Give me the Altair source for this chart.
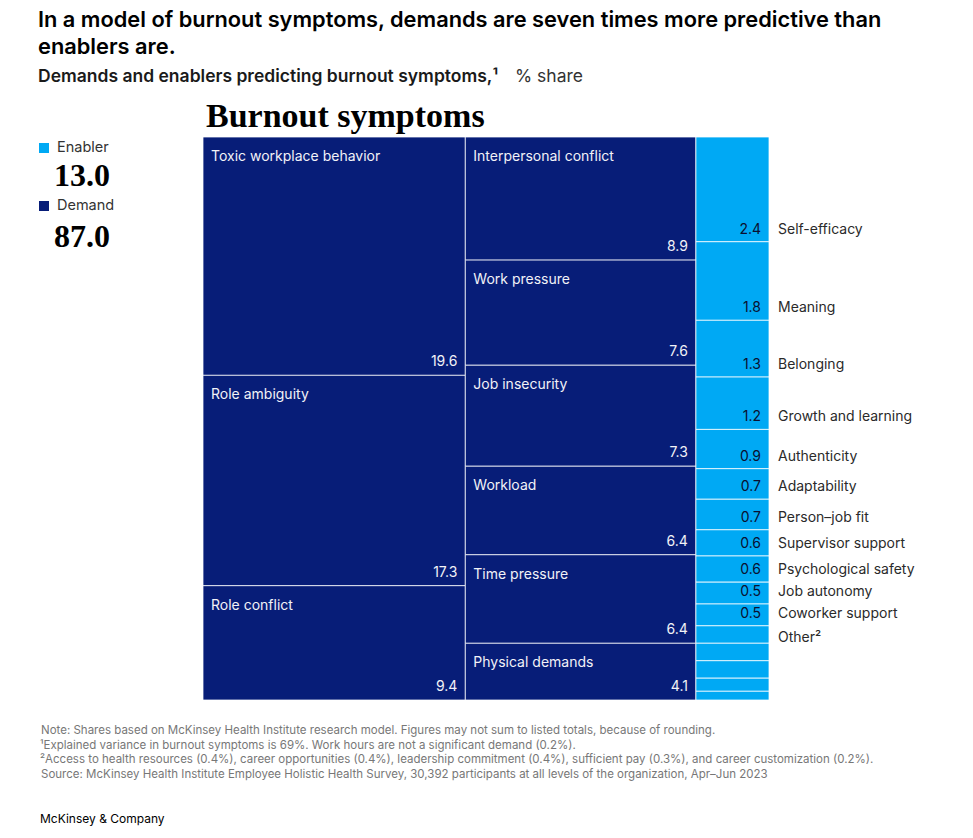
import altair as alt
import pandas as pd

# ---------------- data ----------------
demand_col1_names = ["Toxic workplace behavior", "Role ambiguity", "Role conflict"]
demand_col1_values = [19.6, 17.3, 9.4]
demand_col2_names = ["Interpersonal conflict", "Work pressure", "Job insecurity",
                     "Workload", "Time pressure", "Physical demands"]
demand_col2_values = [8.9, 7.6, 7.3, 6.4, 6.4, 4.1]
enabler_names = ["Self-efficacy", "Meaning", "Belonging", "Growth and learning",
                 "Authenticity", "Adaptability", "Person\u2013job fit", "Supervisor support",
                 "Psychological safety", "Job autonomy", "Coworker support"]
enabler_values = [2.4, 1.8, 1.3, 1.2, 0.9, 0.7, 0.7, 0.6, 0.6, 0.5, 0.5]
other_names = ["Access to health resources", "Career opportunities", "Leadership commitment",
               "Sufficient pay", "Career customization"]
other_values = [0.4, 0.4, 0.4, 0.3, 0.2]
other_label = "Other\u00b2"
legend_labels = ["Enabler", "Demand"]
legend_totals = [13.0, 87.0]

title_lines = ["In a model of burnout symptoms, demands are seven times more predictive than",
               "enablers are."]
subtitle_bold = "Demands and enablers predicting burnout symptoms,\u00b9"
subtitle_rest = "% share"
panel_title = "Burnout symptoms"
footnotes = [
    "Note: Shares based on McKinsey Health Institute research model. Figures may not sum to listed totals, because of rounding.",
    "\u00b9Explained variance in burnout symptoms is 69%. Work hours are not a significant demand (0.2%).",
    "\u00b2Access to health resources (0.4%), career opportunities (0.4%), leadership commitment (0.4%), sufficient pay (0.3%), and career customization (0.2%).",
    " Source: McKinsey Health Institute Employee Holistic Health Survey, 30,392 participants at all levels of the organization, Apr\u2013Jun 2023",
]
brand = "McKinsey & Company"

# ---------------- table ----------------
columns = [
    ("Demand", demand_col1_names, demand_col1_values, [False] * 3),
    ("Demand", demand_col2_names, demand_col2_values, [False] * 6),
    ("Enabler", enabler_names + other_names, enabler_values + other_values,
     [False] * len(enabler_names) + [True] * len(other_names)),
]
rows = []
x_start = 0.0
for ci, (group, names, vals, is_other) in enumerate(columns):
    total = sum(vals)
    cum = 0.0
    first_other = True
    for n, v, o in zip(names, vals, is_other):
        if o:
            label = other_label if first_other else ""
            kind = "other_first" if first_other else "other"
            first_other = False
            vlabel = ""
        else:
            label = n
            kind = "main"
            vlabel = f"{v:.1f}"
        rows.append(dict(group=group, col=ci, name=n, value=v, label=label, vlabel=vlabel,
                         kind=kind, x0=x_start, x1=x_start + total,
                         y0=cum / total, y1=(cum + v) / total))
        cum += v
    x_start += total
df = pd.DataFrame(rows)
x_total = x_start

SANS = "Inter"
SERIF = "Liberation Serif"
NAVY = "#071d78"
CYAN = "#00a9f4"

xs = alt.Scale(domain=[0, x_total], range=[195, 761], nice=False, zero=False)
ys = alt.Scale(domain=[0, 1], range=[129, 692], nice=False, zero=False)

base = alt.Chart(df)

rects = base.mark_rect(stroke="white", strokeWidth=1, strokeOpacity=0.75).encode(
    x=alt.X("x0:Q", scale=xs, axis=None),
    x2="x1:Q",
    y=alt.Y("y0:Q", scale=ys, axis=None),
    y2="y1:Q",
    color=alt.Color("group:N", scale=alt.Scale(domain=legend_labels, range=[CYAN, NAVY]), legend=None),
)

demand_names = base.transform_filter(alt.datum.group == "Demand").mark_text(
    align="left", baseline="middle", dx=8, dy=20, color="#f2f2f7", fontSize=14, font=SANS
).encode(x=alt.X("x0:Q", scale=xs), y=alt.Y("y0:Q", scale=ys), text="label:N")

demand_vals = base.transform_filter(alt.datum.group == "Demand").mark_text(
    align="right", baseline="middle", dx=-8, dy=-13, color="#f2f2f7", fontSize=14, font=SANS
).encode(x=alt.X("x1:Q", scale=xs), y=alt.Y("y1:Q", scale=ys), text="vlabel:N")

enabler_vals = base.transform_filter(alt.datum.kind == "main").transform_filter(
    alt.datum.group == "Enabler").mark_text(
    align="right", baseline="middle", dx=-8, dy=-12, color="#0a1030", fontSize=14, font=SANS
).encode(x=alt.X("x1:Q", scale=xs), y=alt.Y("y1:Q", scale=ys), text="vlabel:N")

enabler_labels = base.transform_filter(alt.datum.kind == "main").transform_filter(
    alt.datum.group == "Enabler").mark_text(
    align="left", baseline="middle", dx=9, dy=-12, color="#2a2a2a", fontSize=14, font=SANS
).encode(x=alt.X("x1:Q", scale=xs), y=alt.Y("y1:Q", scale=ys), text="label:N")

other_lab = base.transform_filter(alt.datum.kind == "other_first").mark_text(
    align="left", baseline="middle", dx=9, dy=-5, color="#2a2a2a", fontSize=14, font=SANS
).encode(x=alt.X("x1:Q", scale=xs), y=alt.Y("y1:Q", scale=ys), text="label:N")


def txt(text, x, y, **kw):
    return alt.Chart(alt.Data(values=[{}])).mark_text(text=text, **kw).encode(
        x=alt.value(x), y=alt.value(y))


def box(x, y, size, color):
    return alt.Chart(alt.Data(values=[{}])).mark_rect(color=color).encode(
        x=alt.value(x), x2=alt.value(x + size), y=alt.value(y), y2=alt.value(y + size))


annotations = [
    txt(title_lines[0], 30, 19, align="left", baseline="alphabetic", font=SANS, fontSize=21.8,
        fontWeight=600, color="#000000"),
    txt(title_lines[1], 30, 46, align="left", baseline="alphabetic", font=SANS, fontSize=21.8,
        fontWeight=600, color="#000000"),
    txt(subtitle_bold, 30, 74, align="left", baseline="alphabetic", font=SANS, fontSize=17.5,
        fontWeight=600, color="#1a1a1a"),
    txt(subtitle_rest, 507, 74, align="left", baseline="alphabetic", font=SANS, fontSize=17.5,
        color="#333333"),
    txt(panel_title, 198, 119, align="left", baseline="alphabetic", font=SERIF, fontSize=34,
        fontWeight="bold", color="#000000"),
    box(31, 135, 10, CYAN),
    txt(legend_labels[0], 49, 140, align="left", baseline="middle", font=SANS, fontSize=14.5,
        color="#333333"),
    txt(f"{legend_totals[0]:.1f}", 46, 178, align="left", baseline="alphabetic", font=SERIF,
        fontSize=32, fontWeight="bold", color="#000000"),
    box(31, 193, 10, NAVY),
    txt(legend_labels[1], 49, 198, align="left", baseline="middle", font=SANS, fontSize=14.5,
        color="#333333"),
    txt(f"{legend_totals[1]:.1f}", 46, 239, align="left", baseline="alphabetic", font=SERIF,
        fontSize=32, fontWeight="bold", color="#000000"),
]
fx = [33, 32, 32, 33]
fy = [723, 737.5, 752, 766.5]
for t, x, y in zip(footnotes, fx, fy):
    annotations.append(txt(t, x, y, align="left", baseline="middle", font=SANS, fontSize=11.5,
                           color="#777777"))
annotations.append(txt(brand, 32, 811, align="left", baseline="middle", font=SANS, fontSize=12,
                       color="#000000"))

chart = alt.layer(
    rects, demand_names, demand_vals, enabler_vals, enabler_labels, other_lab, *annotations
).properties(
    width=940, height=820, autosize=alt.AutoSizeParams(type="none"), padding=0
).configure_view(stroke=None)

chart.save("out.html", embed_options={"renderer": "svg", "actions": False})
